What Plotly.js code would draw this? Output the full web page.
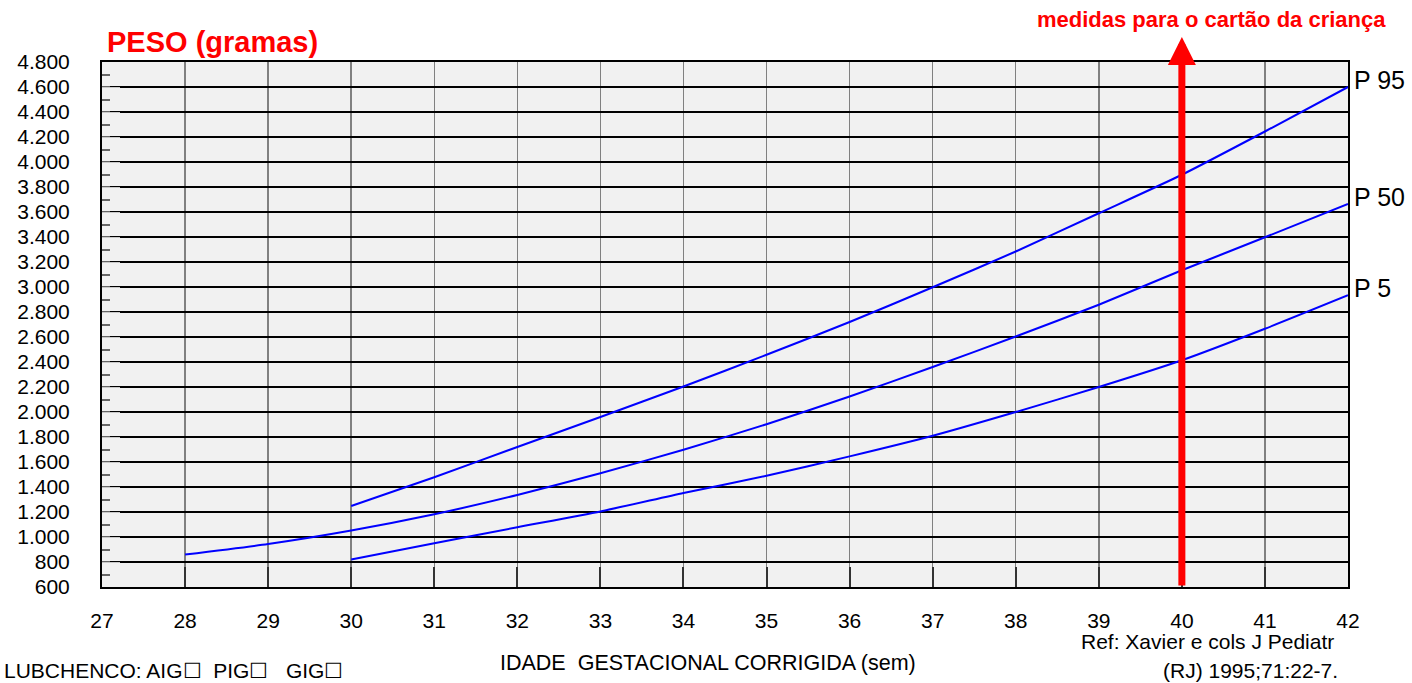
<!DOCTYPE html>
<html><head><meta charset="utf-8">
<script src="https://cdn.plot.ly/plotly-3.0.1.min.js"></script>
<style>html,body{margin:0;padding:0;background:#fff}#chart{width:1412px;height:683px}</style>
</head><body><div id="chart"></div>
<script>
const weeksP95 = [30,31,32,33,34,35,36,37,38,39,40,41,42];
const p95 = [1248,1478,1720,1960,2204,2458,2720,2998,3284,3590,3898,4244,4600];
const weeksP50 = [28,29,30,31,32,33,34,35,36,37,38,39,40,41,42];
const p50 = [860,944,1052,1182,1336,1510,1698,1902,2124,2360,2604,2858,3134,3398,3664];
const weeksP5 = [30,31,32,33,34,35,36,37,38,39,40,41,42];
const p5 = [820,950,1078,1204,1352,1490,1645,1810,2000,2200,2414,2666,2934];
const yTickVals = [600,800,1000,1200,1400,1600,1800,2000,2200,2400,2600,2800,3000,3200,3400,3600,3800,4000,4200,4400,4600,4800];
const yTickText = ["600","800","1.000","1.200","1.400","1.600","1.800","2.000","2.200","2.400","2.600","2.800","3.000","3.200","3.400","3.600","3.800","4.000","4.200","4.400","4.600","4.800"];
const xTickVals = [27,28,29,30,31,32,33,34,35,36,37,38,39,40,41,42];
const markWeek = 40;
const seriesLabels = ["P 95","P 50","P 5"];

const F = "Liberation Sans, Arial, sans-serif";
const lineStyle = {color:'#0000ff', width:2, shape:'spline', smoothing:0.6};
const traces = [
  {x:weeksP95, y:p95, mode:'lines', line:lineStyle, hoverinfo:'skip'},
  {x:weeksP50, y:p50, mode:'lines', line:lineStyle, hoverinfo:'skip'},
  {x:weeksP5, y:p5, mode:'lines', line:lineStyle, hoverinfo:'skip'}
];
const ends = [p95[p95.length-1], p50[p50.length-1], p5[p5.length-1]];
const annotations = seriesLabels.map((t,i)=>({
  x:42, y:ends[i], xref:'x', yref:'y', text:t, showarrow:false,
  xanchor:'left', yanchor:'middle', xshift:4, yshift:7,
  font:{family:F, size:25, color:'#000'}
}));
annotations.push(
  {x:markWeek, y:5000, xref:'x', yref:'y', ax:markWeek, ay:600, axref:'x', ayref:'y',
   showarrow:true, arrowcolor:'#ff0000', arrowwidth:7, arrowhead:2, arrowsize:0.8, text:'', standoff:0},
  {text:'<b>medidas para o cartão da criança</b>', showarrow:false},
  {text:'<b>PESO (gramas)</b>', showarrow:false},
  {text:'IDADE  GESTACIONAL CORRIGIDA (sem)', showarrow:false},
  {text:'Ref: Xavier e cols J Pediatr', showarrow:false},
  {text:'(RJ) 1995;71:22-7.', showarrow:false},
  {text:'LUBCHENCO: AIG☐  PIG☐   GIG☐', showarrow:false}
);
const L=102, R=64, T=62, B=96, W=1412, H=683;
const pw=W-L-R, ph=H-T-B;
function px(x){return (x-L)/pw;}
function py(y){return (H-B-y)/ph;}
const textSpecs = [
  [1388,20,'right',22,'#ff0000'],
  [105,42,'left',29,'#ff0000'],
  [708,663,'center',21.5,'#000'],
  [1336,641,'right',21,'#000'],
  [1340,670,'right',21,'#000'],
  [2,670,'left',21,'#000']
];
for(let i=0;i<textSpecs.length;i++){
  const a = annotations[annotations.length-textSpecs.length+i];
  const s = textSpecs[i];
  a.xref='paper'; a.yref='paper'; a.x=px(s[0]); a.y=py(s[1]);
  a.xanchor=s[2]; a.yanchor='middle'; a.font={family:F,size:s[3],color:s[4]};
}

const layout = {
  width:W, height:H, margin:{l:L,r:R,t:T,b:B},
  paper_bgcolor:'#ffffff', plot_bgcolor:'#f1f1f1', showlegend:false,
  font:{family:F, size:21, color:'#000'},
  xaxis:{range:[27,42], tickvals:xTickVals, ticks:'inside', ticklen:20, tickwidth:2, tickcolor:'#333',
    showgrid:true, gridcolor:'#808080', gridwidth:1.5, zeroline:false,
    showline:true, linecolor:'#000', linewidth:2, mirror:true,
    ticklabelstandoff:14, tickfont:{family:F,size:21,color:'#000'}},
  yaxis:{range:[600,4800], tickvals:yTickVals, ticktext:yTickText, ticks:'inside', ticklen:18, tickcolor:'#c8c8c8', tickwidth:1,
    minor:{dtick:100, tick0:700, ticks:'inside', ticklen:8, tickcolor:'#666', tickwidth:2, showgrid:false},
    showgrid:true, gridcolor:'#000', gridwidth:1.5, zeroline:false,
    showline:true, linecolor:'#000', linewidth:2, mirror:true,
    ticklabelstandoff:26, tickfont:{family:F,size:21,color:'#000'}},
  annotations:annotations
};
Plotly.newPlot('chart', traces, layout, {staticPlot:true});
</script></body></html>
